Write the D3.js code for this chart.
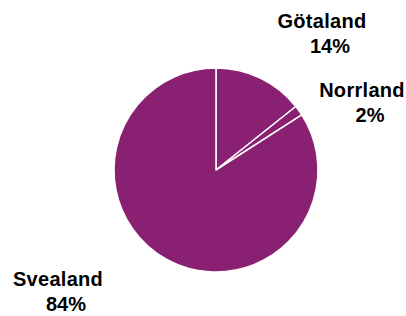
<!DOCTYPE html>
<html>
<head>
<meta charset="utf-8">
<script src="https://cdn.jsdelivr.net/npm/d3@7"></script>
<style>
  body { margin: 0; background: #fff; }
  text { font-family: "Liberation Sans", Arial, sans-serif; font-weight: bold; fill: #000; }
</style>
</head>
<body>
<script>
// regions and share of total (percent)
var regions = ["Götaland", "Norrland", "Svealand"];
var shares = [14.3, 1.6, 84.1];

var width = 406, height = 316;
var cx = 216, cy = 170, radius = 102;

// where each label sits (center of the name line)
var labelPos = [[322, 28], [362, 97], [58, 286]];

var svg = d3.select("body").append("svg").attr("width", width).attr("height", height);

var pie = d3.pie().sort(null).value(function(d) { return d; });
var arcs = pie(shares);
var arc = d3.arc().innerRadius(0).outerRadius(radius);

var g = svg.append("g").attr("transform", "translate(" + cx + "," + cy + ")");
g.selectAll("path").data(arcs).enter().append("path")
  .attr("d", arc)
  .attr("fill", "#8a2072")
  .attr("stroke", "#fff")
  .attr("stroke-width", 1.5)
  .attr("stroke-linejoin", "round");

var lab = svg.selectAll("g.lab").data(arcs).enter().append("g")
  .attr("class", "lab")
  .attr("transform", function(d, i) { return "translate(" + labelPos[i][0] + "," + labelPos[i][1] + ")"; });

lab.append("text").attr("text-anchor", "middle").attr("font-size", 20)
  .attr("letter-spacing", 0.3)
  .text(function(d, i) { return regions[i]; });
lab.append("text").attr("text-anchor", "middle").attr("font-size", 20)
  .attr("x", 8).attr("y", 25)
  .text(function(d) { return Math.round(d.data) + "%"; });
</script>
</body>
</html>
